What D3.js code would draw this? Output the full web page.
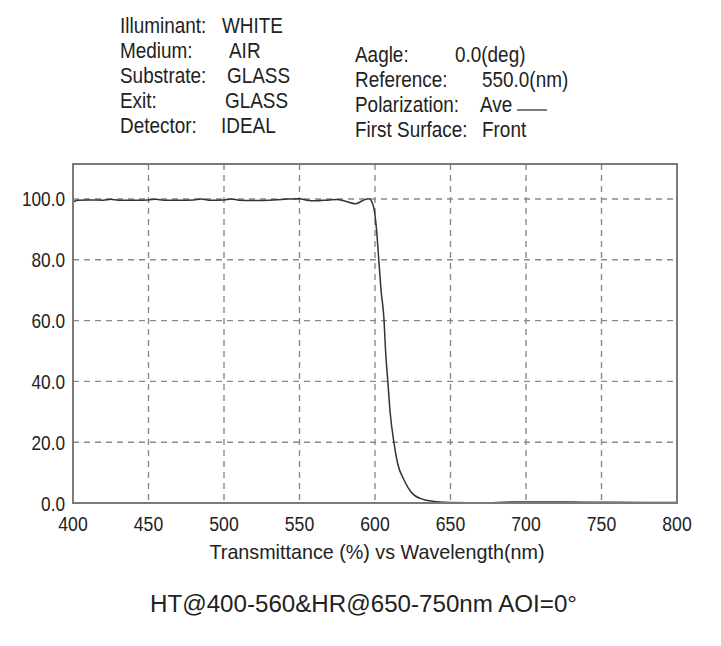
<!DOCTYPE html>
<html>
<head>
<meta charset="utf-8">
<script src="https://cdn.jsdelivr.net/npm/d3@7"></script>
<style>
  html, body { margin: 0; padding: 0; background: #fff; }
  svg { display: block; }
  text { font-family: "Liberation Sans", Arial, sans-serif; fill: #222; }
</style>
</head>
<body>
<svg id="chart" width="721" height="646"></svg>
<script>
// ---- data ----
const wavelength = [400,403,410,420,425,430,440,450,455,460,470,480,485,490,500,505,510,520,530,540,550,555,560,570,575,580,587,592,596,599,
  601,602.5,604,606,607,608.5,610,612.5,615,619,622,625,630,635,641,650,670,690,710,730,750,780,800];
const transmittance = [99.0,99.6,99.7,99.6,99.9,99.6,99.6,99.7,99.9,99.6,99.6,99.7,100.0,99.6,99.7,100.0,99.6,99.5,99.6,99.9,100.1,99.6,99.4,99.7,99.8,99.3,98.4,99.5,100.1,97.5,
  90,80,70,60,50,40,30,20,13,7.8,5,3,1.5,0.8,0.4,0.15,0.1,0.3,0.35,0.3,0.25,0.2,0.2];
const xTicks = [400,450,500,550,600,650,700,750,800];
const yTicks = [0,20,40,60,80,100];
const leftLabels = ["Illuminant:","Medium:","Substrate:","Exit:","Detector:"];
const leftValues = ["WHITE","AIR","GLASS","GLASS","IDEAL"];
const rightLabels = ["Aagle:","Reference:","Polarization:","First Surface:"];
const rightValues = ["0.0(deg)","550.0(nm)","Ave","Front"];
const xTitle = "Transmittance (%) vs Wavelength(nm)";
const chartTitle = "HT@400-560&HR@650-750nm AOI=0°";

// ---- layout ----
const svg = d3.select("#chart");
const L = 73, R = 677, T = 164, B = 503;
const x = d3.scaleLinear().domain([400, 800]).range([L, R]);
const y = d3.scaleLinear().domain([0, 111.5]).range([B, T]);

// condensed text helper
function ntext(sel, cls, data, fx, fy, size, sx, anchor) {
  return sel.selectAll("text." + cls).data(data).join("text")
    .attr("class", cls)
    .attr("transform", (d, i) => `translate(${fx(d, i)},${fy(d, i)}) scale(${sx},1)`)
    .attr("font-size", size)
    .attr("text-anchor", anchor || "start")
    .text(d => d);
}

// header
const leftValX = [222, 229, 227, 225, 221];
const rightValX = [455, 482, 480, 482];
ntext(svg, "hl", leftLabels, () => 120, (d, i) => 33 + i * 25, 21.5, 0.88);
ntext(svg, "hv", leftValues, (d, i) => leftValX[i], (d, i) => 33 + i * 25, 21.5, 0.88);
ntext(svg, "rl", rightLabels, () => 355, (d, i) => 62 + i * 25, 21.5, 0.88);
ntext(svg, "rv", rightValues, (d, i) => rightValX[i], (d, i) => 62 + i * 25, 21.5, 0.88);
svg.append("line").attr("x1", 517).attr("x2", 547).attr("y1", 110).attr("y2", 110)
  .attr("stroke", "#333").attr("stroke-width", 1.3);

// grid
const grid = svg.append("g");
grid.selectAll("line.v").data(xTicks.slice(1, -1)).join("line")
  .attr("x1", d => x(d)).attr("x2", d => x(d)).attr("y1", T).attr("y2", B)
  .attr("stroke", "#8a8a8a").attr("stroke-width", 1.4).attr("stroke-dasharray", "6,5");
grid.selectAll("line.h").data(yTicks.slice(1)).join("line")
  .attr("x1", L).attr("x2", R).attr("y1", d => y(d)).attr("y2", d => y(d))
  .attr("stroke", "#8a8a8a").attr("stroke-width", 1.4).attr("stroke-dasharray", "6,5");

// curve
const line = d3.line().x(d => x(d[0])).y(d => y(d[1])).curve(d3.curveMonotoneX);
svg.append("path").datum(wavelength.map((w, i) => [w, transmittance[i]]))
  .attr("d", line).attr("fill", "none").attr("stroke", "#333").attr("stroke-width", 1.5);

// frame
svg.append("rect").attr("x", L).attr("y", T).attr("width", R - L).attr("height", B - T)
  .attr("fill", "none").attr("stroke", "#7a7a7a").attr("stroke-width", 2);

// axis labels
ntext(svg, "yt", yTicks.map(d => d.toFixed(1)), () => 65, (d, i) => y(yTicks[i]) + 7.5, 21, 0.82, "end");
ntext(svg, "xt", xTicks.map(String), (d, i) => x(xTicks[i]), () => 531, 21, 0.84, "middle");
svg.append("text").attr("x", 377).attr("y", 559)
  .attr("text-anchor", "middle").attr("font-size", 21)
  .attr("textLength", 335).attr("lengthAdjust", "spacingAndGlyphs")
  .text(xTitle);
svg.append("text").attr("x", 363.5).attr("y", 612)
  .attr("text-anchor", "middle").attr("font-size", 23.5)
  .attr("textLength", 427).attr("lengthAdjust", "spacingAndGlyphs")
  .text(chartTitle);
</script>
</body>
</html>
